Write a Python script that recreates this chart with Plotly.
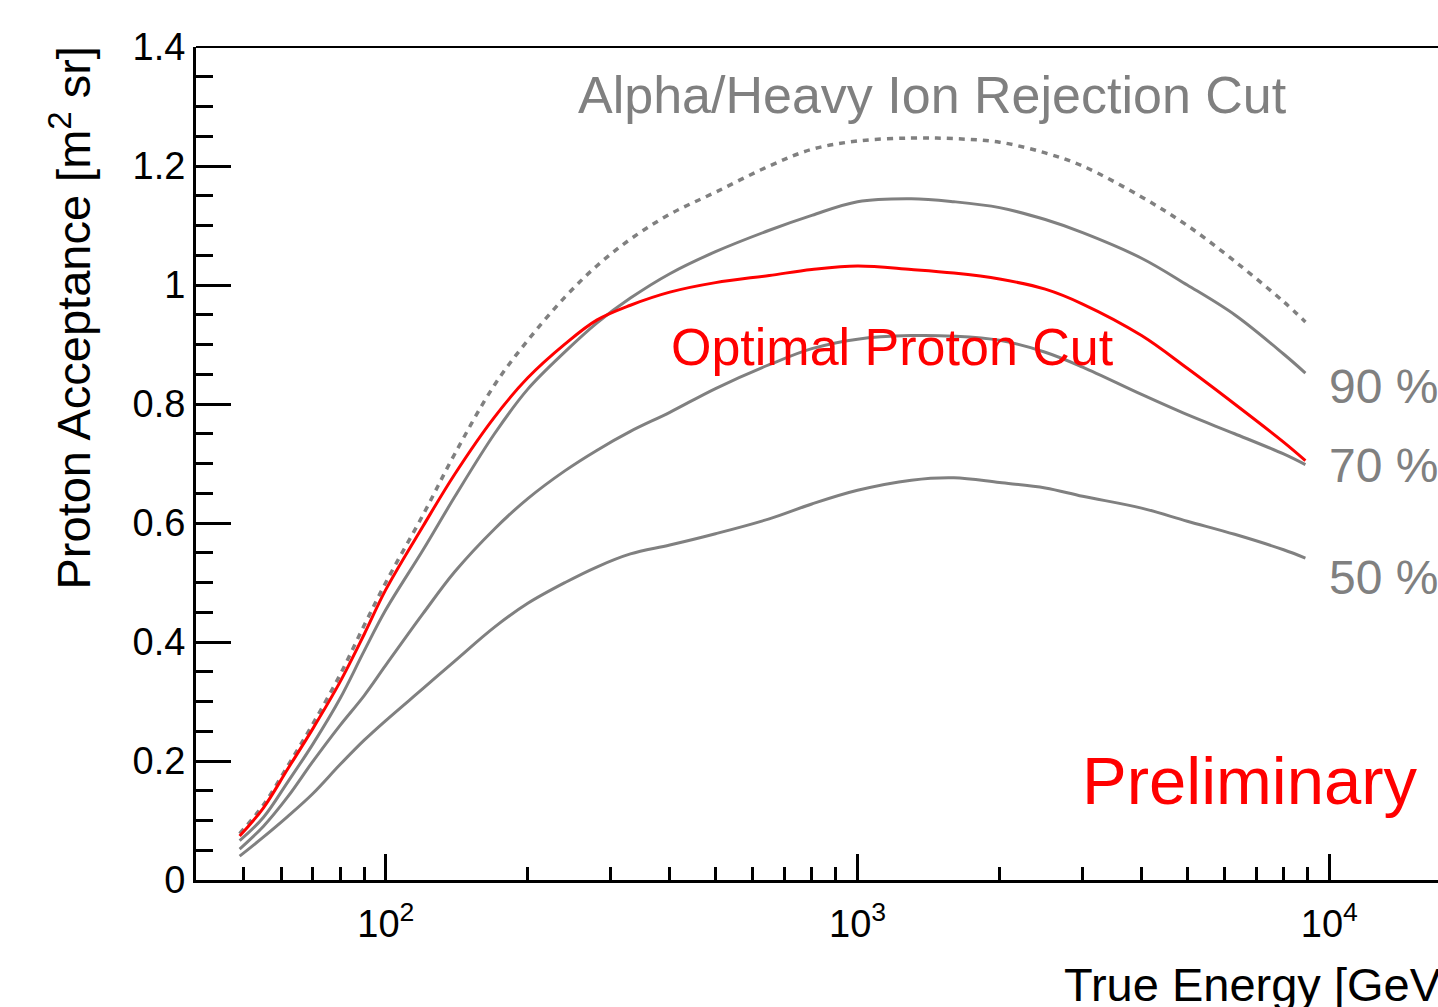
import numpy as np
import plotly.graph_objects as go

# ---- data ----
energy = [49, 55, 62, 70, 80, 90, 100, 120, 140, 170, 200, 240, 280, 330, 400, 500,
          650, 800, 1000, 1300, 1600, 2000, 2500, 3000, 4000, 5000, 6300, 8000, 8900]

alpha_cut = [0.078, 0.126, 0.192, 0.262, 0.345, 0.428, 0.500, 0.614, 0.716, 0.832, 0.907,
             0.980, 1.032, 1.077, 1.119, 1.156, 1.200, 1.228, 1.242, 1.247, 1.246, 1.240,
             1.222, 1.200, 1.148, 1.100, 1.040, 0.972, 0.938]

optimal_cut = [0.074, 0.121, 0.187, 0.254, 0.333, 0.413, 0.488, 0.595, 0.682, 0.778, 0.844,
               0.901, 0.941, 0.966, 0.988, 1.004, 1.016, 1.026, 1.032, 1.026, 1.020, 1.010,
               0.993, 0.968, 0.915, 0.860, 0.800, 0.736, 0.705]

eff90 = [0.066, 0.105, 0.165, 0.228, 0.305, 0.385, 0.454, 0.555, 0.644, 0.750, 0.825,
         0.888, 0.936, 0.978, 1.019, 1.056, 1.092, 1.117, 1.140, 1.145, 1.140, 1.130,
         1.110, 1.088, 1.045, 1.000, 0.950, 0.884, 0.852]

eff70 = [0.052, 0.090, 0.140, 0.199, 0.260, 0.310, 0.361, 0.448, 0.518, 0.590, 0.641,
         0.688, 0.722, 0.754, 0.786, 0.826, 0.866, 0.893, 0.909, 0.915, 0.914, 0.907,
         0.887, 0.862, 0.816, 0.782, 0.750, 0.716, 0.698]

eff50 = [0.040, 0.072, 0.107, 0.145, 0.194, 0.235, 0.268, 0.322, 0.368, 0.425, 0.465,
         0.500, 0.526, 0.548, 0.563, 0.582, 0.607, 0.632, 0.655, 0.672, 0.676, 0.668,
         0.659, 0.645, 0.625, 0.603, 0.581, 0.555, 0.541]

x_major = [100, 1000, 10000]
x_major_text = ["10<sup>2</sup>", "10<sup>3</sup>", "10<sup>4</sup>"]
x_minor = [50, 60, 70, 80, 90, 200, 300, 400, 500, 600, 700, 800, 900,
           2000, 3000, 4000, 5000, 6000, 7000, 8000, 9000, 20000]
y_major = [0, 0.2, 0.4, 0.6, 0.8, 1.0, 1.2, 1.4]
y_major_text = ["0", "0.2", "0.4", "0.6", "0.8", "1", "1.2", "1.4"]

GRAY = "#808080"
RED = "#ff0000"
FONT = "Liberation Sans, Arial, Helvetica, sans-serif"

fig = go.Figure()
for vals in (eff50, eff70, eff90):
    fig.add_trace(go.Scatter(x=energy, y=vals, mode="lines", line_shape="spline",
                             line=dict(color=GRAY, width=3), showlegend=False, hoverinfo="skip"))
fig.add_trace(go.Scatter(x=energy, y=alpha_cut, mode="lines", line_shape="spline",
                         line=dict(color=GRAY, width=3.5, dash="6px,6px"), showlegend=False,
                         hoverinfo="skip"))
fig.add_trace(go.Scatter(x=energy, y=optimal_cut, mode="lines", line_shape="spline",
                         line=dict(color=RED, width=3), showlegend=False, hoverinfo="skip"))

W, H = 1438, 1007
L, B, T = 196, 127, 47
PW, PH = W - L, H - B - T


def px(xp):
    return (xp - L) / PW


def py(yp):
    return (H - B - yp) / PH


annotations = [
    dict(text="Alpha/Heavy Ion Rejection Cut", x=px(576), y=py(95), xanchor="left",
         yanchor="middle", font=dict(size=52, color=GRAY, family=FONT)),
    dict(text="Optimal Proton Cut", x=px(669), y=py(347), xanchor="left", yanchor="middle",
         font=dict(size=52, color=RED, family=FONT)),
    dict(text="Preliminary", x=px(1080), y=py(780), xanchor="left", yanchor="middle",
         font=dict(size=67, color=RED, family=FONT)),
    dict(text="90 %", x=px(1327), y=py(386), xanchor="left", yanchor="middle",
         font=dict(size=48, color=GRAY, family=FONT)),
    dict(text="70 %", x=px(1327), y=py(466), xanchor="left", yanchor="middle",
         font=dict(size=48, color=GRAY, family=FONT)),
    dict(text="50 %", x=px(1327), y=py(578), xanchor="left", yanchor="middle",
         font=dict(size=48, color=GRAY, family=FONT)),
    dict(text="True Energy [GeV]", x=px(1062), y=py(984), xanchor="left", yanchor="middle",
         font=dict(size=47, color="black", family=FONT)),
    dict(text="Proton Acceptance [m<sup>2</sup> sr]", x=px(71), y=py(45), xanchor="center",
         yanchor="top", textangle=-90, font=dict(size=47, color="black", family=FONT)),
]
for a in annotations:
    a.update(xref="paper", yref="paper", showarrow=False)

fig.update_layout(
    width=W, height=H,
    margin=dict(l=L, r=0, t=T, b=B, pad=0),
    paper_bgcolor="white", plot_bgcolor="white",
    font=dict(family=FONT, color="black", size=38),
    annotations=annotations,
    shapes=[dict(type="line", xref="paper", yref="paper", x0=0, x1=1, y0=1, y1=1,
                 line=dict(color="black", width=2))],
)
fig.update_xaxes(
    type="log", range=[np.log10(39.6), np.log10(17000)],
    showgrid=False, zeroline=False,
    showline=True, linecolor="black", linewidth=3,
    tickmode="array", tickvals=x_major, ticktext=x_major_text,
    ticks="inside", ticklen=26, tickwidth=3, tickcolor="black",
    ticklabelstandoff=8,
    tickfont=dict(size=38, family=FONT, color="black"),
    minor=dict(tickmode="array", tickvals=x_minor, ticks="inside", ticklen=13,
               tickwidth=3, tickcolor="black", showgrid=False),
)
fig.update_yaxes(
    range=[0, 1.4], showgrid=False, zeroline=False,
    showline=True, linecolor="black", linewidth=3,
    tickmode="array", tickvals=y_major, ticktext=y_major_text,
    ticks="inside", ticklen=35, tickwidth=3, tickcolor="black",
    ticklabelstandoff=0,
    tickfont=dict(size=38, family=FONT, color="black"),
    minor=dict(dtick=0.05, ticks="inside", ticklen=17, tickwidth=3, tickcolor="black",
               showgrid=False),
)

fig.write_html("out.html")
